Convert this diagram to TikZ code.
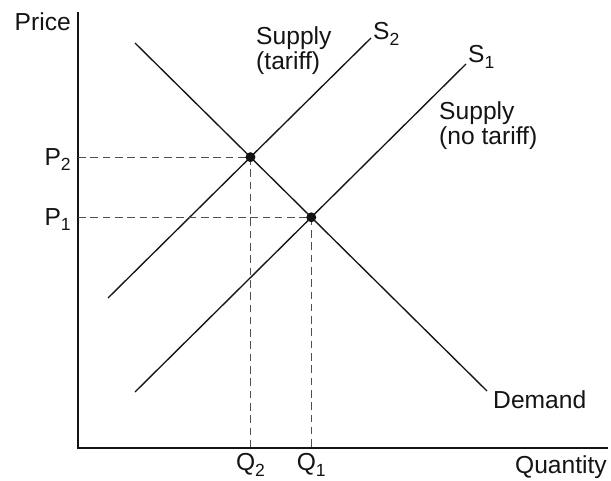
\documentclass[tikz,border=0pt]{standalone}
\usepackage{fontspec}
\setmainfont{Liberation Sans}
\usetikzlibrary{intersections}
\definecolor{ink}{RGB}{20,20,20}
\newcommand{\lowidx}[1]{\raisebox{-4.5pt}{\fontsize{15}{15}\selectfont #1}}

\begin{document}
\begin{tikzpicture}[
    x=0.03cm,y=-0.03cm,
    text=ink,
    every node/.style={font=\fontsize{21}{22}\selectfont, inner sep=0pt},
    axisline/.style={draw=ink, line width=1.4pt},
    curve/.style={draw=ink, line width=1.15pt},
    guide/.style={draw=ink!75, line width=0.8pt, dash pattern=on 6.5pt off 4pt},
    eqdot/.style={circle, fill=ink, minimum size=8.5pt, inner sep=0pt},
    lbl/.style={text=ink}
]
\useasboundingbox (0,0) rectangle (611,481);

% Axes
\coordinate (origin) at (78,448);
\coordinate (ytop) at (78,12);
\coordinate (xend) at (608,448);
\draw[axisline] (ytop) -- (origin) -- (xend);

% Curves
\coordinate (dstart) at (135,43);
\coordinate (dend) at (487,391);
\coordinate (s2start) at (108,298);
\coordinate (s2end) at (371,38);
\coordinate (s1start) at (135,392);
\coordinate (s1end) at (466,64);
\draw[curve, name path=demand] (dstart) -- (dend);
\draw[curve, name path=supplytwo] (s2start) -- (s2end);
\draw[curve, name path=supplyone] (s1start) -- (s1end);

% Equilibria
\path[name intersections={of=demand and supplytwo, by=eqtwo}];
\path[name intersections={of=demand and supplyone, by=eqone}];
\coordinate (ptwo) at (origin |- eqtwo);
\coordinate (pone) at (origin |- eqone);
\coordinate (qtwo) at (eqtwo |- origin);
\coordinate (qone) at (eqone |- origin);
\draw[guide] (ptwo) -- (eqtwo) -- (qtwo);
\draw[guide] (pone) -- (eqone) -- (qone);
\node[eqdot] (dottwo) at (eqtwo) {};
\node[eqdot] (dotone) at (eqone) {};

% Axis labels
\node[lbl, anchor=base east] (price) at (71,31) {Price};
\node[lbl, anchor=base east] (quantity) at (607,473) {Quantity};
\node[lbl, anchor=base east] (ptwolbl) at ([xshift=-6pt,yshift=-7pt]ptwo) {P\lowidx{2}};
\node[lbl, anchor=base east] (ponelbl) at ([xshift=-6pt,yshift=-7pt]pone) {P\lowidx{1}};
\node[lbl, anchor=base] (qtwolbl) at ([yshift=-19.5pt]qtwo) {Q\lowidx{2}};
\node[lbl, anchor=base] (qonelbl) at ([yshift=-19.5pt]qone) {Q\lowidx{1}};

% Curve labels
\node[lbl, anchor=base west, align=left] (tariff) at (256,70) {Supply\\(tariff)};
\node[lbl, anchor=base west] (stwo) at (373,40) {S\lowidx{2}};
\node[lbl, anchor=base west] (sone) at (468,63) {S\lowidx{1}};
\node[lbl, anchor=base west, align=left] (notariff) at (439,145) {Supply\\(no tariff)};
\node[lbl, anchor=base west] (demandlbl) at (493,408) {Demand};

\end{tikzpicture}
\end{document}
